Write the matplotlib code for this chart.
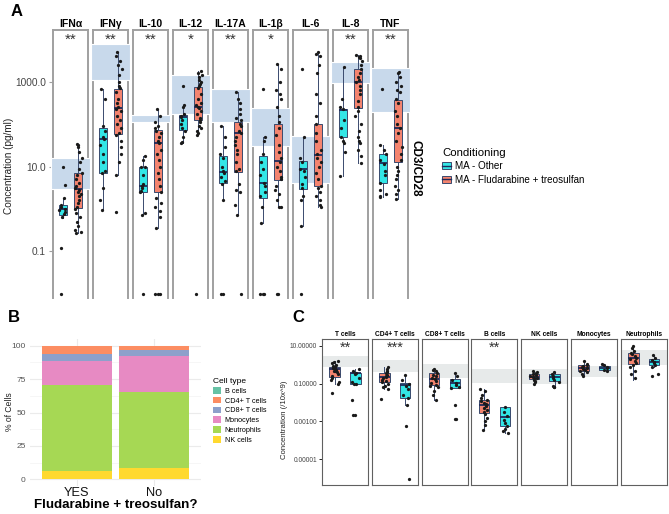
import matplotlib
matplotlib.use('Agg')
import matplotlib.pyplot as plt
import numpy as np
from matplotlib.patches import Rectangle, Patch
from matplotlib.lines import Line2D
from matplotlib.ticker import NullLocator, FixedLocator
from matplotlib.legend_handler import HandlerTuple

plt.rcParams['font.family'] = ['Liberation Sans', 'DejaVu Sans']

W, H = 669, 514
CYAN = '#33E6E6'
SALMON = '#F4846F'
EDGE = '#3A4A6E'
MED = '#1E2A5A'

# ---------------- panel A: cytokines (log10 pg/ml) ----------------
cytokines = ['IFNα', 'IFNγ', 'IL-10', 'IL-12', 'IL-17A', 'IL-1β', 'IL-6', 'IL-8', 'TNF']
sig_a = ['**', '**', '**', '*', '**', '*', '', '**', '**']
band_a_lo = [0.48, 3.04, 2.06, 2.24, 2.06, 1.49, 0.61, 2.96, 2.29]
band_a_hi = [1.20, 3.90, 2.22, 3.16, 2.84, 2.39, 1.71, 3.46, 3.32]

# (whisker low, q1, median, q3, whisker high)
other_a_box = [(-0.22, -0.14, 0.0, 0.10, 0.25), (-0.02, 0.84, 1.64, 1.90, 2.82),
               (-0.14, 0.39, 0.55, 1.00, 1.25), (1.55, 1.86, 2.18, 2.22, 2.45),
               (0.22, 0.62, 0.88, 1.24, 1.96), (-0.32, 0.25, 0.62, 1.25, 1.69),
               (-0.41, 0.47, 0.95, 1.14, 1.69), (0.78, 1.69, 2.33, 2.36, 3.34),
               (0.29, 0.61, 1.09, 1.29, 1.51)]
flu_a_box = [(-0.57, 0.02, 0.47, 0.84, 1.53), (0.80, 1.76, 2.37, 2.84, 3.69),
             (-0.45, 0.41, 1.56, 1.86, 2.35), (1.75, 2.10, 2.40, 2.88, 3.26),
             (-0.14, 0.88, 1.78, 2.06, 2.76), (0.04, 0.69, 1.12, 2.00, 3.41),
             (0.04, 0.53, 1.27, 2.00, 3.69), (1.09, 2.37, 3.00, 3.30, 3.63),
             (0.24, 1.10, 1.90, 2.58, 3.24)]

other_a_pts = [
    [1.0, 0.57, 0.25, 0.1, 0.05, 0.0, -0.02, -0.08, -0.12, -0.2, -0.92, -2.0],
    [2.82, 2.6, 1.95, 1.85, 1.7, 1.64, 1.5, 1.3, 1.1, 0.9, 0.85, 0.49, 0.22, -0.02],
    [1.25, 1.15, 1.0, 0.98, 0.8, 0.6, 0.55, 0.5, 0.42, 0.4, -0.1, -0.14, -2.0],
    [2.9, 2.45, 2.4, 2.25, 2.2, 2.18, 2.1, 2.0, 1.9, 1.85, 1.7, 1.58, 1.55],
    [1.96, 1.7, 1.45, 1.3, 1.2, 1.0, 0.9, 0.85, 0.75, 0.65, 0.6, 0.22, -2.0, -2.0],
    [2.84, 1.69, 1.6, 1.3, 1.1, 0.95, 0.8, 0.62, 0.55, 0.4, 0.3, 0.05, -0.32, -2.0, -2.0, -2.0],
    [3.29, 1.69, 1.2, 1.1, 0.95, 0.9, 0.75, 0.6, 0.5, 0.3, 0.2, -0.41, -2.0],
    [3.34, 2.6, 2.4, 2.35, 2.1, 1.9, 1.7, 1.6, 1.55, 1.35, 0.78],
    [2.82, 1.51, 1.4, 1.3, 1.15, 1.05, 0.9, 0.8, 0.62, 0.45, 0.35, 0.3, 0.29],
]
flu_a_pts = [
    [1.53, 1.5, 1.45, 1.35, 1.2, 1.1, 0.95, 0.85, 0.8, 0.7, 0.62, 0.55, 0.5, 0.45,
     0.4, 0.35, 0.3, 0.22, 0.15, 0.05, 0.0, -0.1, -0.2, -0.3, -0.4, -0.5, -0.55, -0.57],
    [3.69, 3.6, 3.5, 3.4, 3.3, 3.15, 3.0, 2.9, 2.85, 2.75, 2.6, 2.5, 2.4, 2.35, 2.3,
     2.2, 2.1, 2.0, 1.9, 1.8, 1.75, 1.6, 1.45, 1.3, 1.1, 0.8, -0.07],
    [2.35, 2.2, 2.05, 1.95, 1.9, 1.85, 1.8, 1.7, 1.6, 1.55, 1.4, 1.3, 1.15, 1.0, 0.85,
     0.7, 0.55, 0.4, 0.25, 0.15, 0.05, -0.05, -0.2, -0.45, -2.0, -2.0, -2.0],
    [3.26, 3.2, 3.15, 3.1, 3.05, 3.0, 2.95, 2.9, 2.85, 2.7, 2.6, 2.5, 2.45, 2.4, 2.38,
     2.3, 2.25, 2.15, 2.1, 2.05, 1.95, 1.9, 1.85, 1.8, 1.75, -2.0],
    [2.76, 2.6, 2.5, 2.35, 2.25, 2.15, 2.1, 2.0, 1.95, 1.85, 1.78, 1.7, 1.6, 1.5, 1.4,
     1.3, 1.1, 0.95, 0.9, 0.6, 0.45, 0.4, 0.1, -0.14, -2.0],
    [3.41, 3.3, 3.0, 2.8, 2.7, 2.6, 2.4, 2.2, 2.05, 1.9, 1.75, 1.5, 1.35, 1.2, 1.1, 1.0,
     0.9, 0.75, 0.7, 0.55, 0.45, 0.35, 0.2, 0.04, 0.04, -2.0, -2.0],
    [3.69, 3.65, 3.6, 3.4, 3.2, 2.7, 2.5, 2.2, 2.0, 1.8, 1.6, 1.4, 1.3, 1.2, 1.1, 1.0,
     0.85, 0.7, 0.55, 0.5, 0.4, 0.3, 0.2, 0.1, 0.05],
    [3.63, 3.6, 3.58, 3.55, 3.5, 3.4, 3.3, 3.2, 3.1, 3.05, 3.0, 2.9, 2.8, 2.7, 2.55, 2.4,
     2.3, 2.2, 2.0, 1.85, 1.7, 1.6, 1.55, 1.4, 1.25, 1.09],
    [3.24, 3.2, 3.1, 3.0, 2.9, 2.8, 2.75, 2.6, 2.5, 2.3, 2.2, 2.0, 1.9, 1.8, 1.6, 1.45,
     1.3, 1.15, 1.0, 0.9, 0.8, 0.7, 0.55, 0.45, 0.35, 0.24],
]

# ---------------- panel B: cell composition (%) ----------------
cell_types = ['B cells', 'CD4+ T cells', 'CD8+ T cells', 'Monocytes', 'Neutrophils', 'NK cells']
cell_colors = ['#66C2A5', '#FC8D62', '#8DA0CB', '#E78AC3', '#A6D854', '#FFD92F']
flu_groups = ['YES', 'No']
pct_yes = [0.2, 5.8, 5.75, 17.5, 64.25, 6.5]
pct_no = [0.2, 2.8, 4.5, 27.5, 56.25, 8.75]

# ---------------- panel C: cell counts (log10 /10x^9) ----------------
cells_c = ['T cells', 'CD4+ T cells', 'CD8+ T cells', 'B cells', 'NK cells', 'Monocytes', 'Neutrophils']
sig_c = ['**', '***', '', '**', '', '', '']
band_c_lo = [-0.10, -0.36, -0.68, -0.98, -1.03, -0.63, -0.01]
band_c_hi = [0.47, 0.26, 0.03, -0.22, -0.22, -0.04, 0.79]
flu_c_box = [(-1.0, -0.66, -0.24, -0.10, 0.20), (-1.26, -0.90, -0.63, -0.42, -0.10),
             (-1.87, -1.07, -0.77, -0.45, -0.20), (-3.46, -2.54, -2.15, -1.87, -1.26),
             (-1.0, -0.77, -0.63, -0.49, -0.30), (-0.58, -0.31, -0.17, -0.01, 0.20),
             (-0.80, 0.03, 0.34, 0.64, 1.00)]
other_c_box = [(-1.02, -1.02, -0.44, -0.42, -0.20), (-2.13, -1.78, -1.07, -0.98, -0.56),
               (-1.22, -1.22, -0.98, -0.76, -0.45), (-3.63, -3.23, -2.79, -2.25, -2.25),
               (-1.20, -0.86, -0.66, -0.51, -0.40), (-0.35, -0.29, -0.17, -0.06, 0.05),
               (-0.10, -0.01, 0.16, 0.31, 0.50)]
flu_c_pts = [
    [0.2, 0.15, 0.1, 0.0, -0.05, -0.1, -0.15, -0.2, -0.25, -0.3, -0.35, -0.4, -0.5,
     -0.6, -0.7, -0.8, -0.9, -1.0, -1.48],
    [-0.1, -0.2, -0.3, -0.4, -0.45, -0.55, -0.6, -0.65, -0.7, -0.8, -0.85, -0.9, -1.0,
     -1.1, -1.2, -1.26, -1.81],
    [-0.2, -0.25, -0.35, -0.45, -0.55, -0.6, -0.7, -0.75, -0.85, -0.95, -1.05, -1.1,
     -1.2, -1.4, -1.6, -1.87],
    [-1.26, -1.4, -1.6, -1.75, -1.85, -1.9, -2.0, -2.1, -2.2, -2.3, -2.4, -2.5, -2.6,
     -2.8, -3.0, -3.2, -3.46],
    [-0.3, -0.4, -0.45, -0.5, -0.55, -0.6, -0.63, -0.68, -0.72, -0.78, -0.85, -0.9, -1.0],
    [0.2, 0.05, 0.0, -0.05, -0.1, -0.15, -0.2, -0.25, -0.3, -0.4, -0.5, -0.58],
    [1.02, 0.9, 0.75, 0.65, 0.55, 0.45, 0.35, 0.3, 0.2, 0.1, 0.0, -0.1, -0.3, -0.5, -0.7],
]
other_c_pts = [
    [-0.2, -0.35, -0.42, -0.5, -0.7, -0.9, -1.02, -1.02, -1.87, -2.66, -2.66],
    [-0.56, -0.8, -1.0, -1.1, -1.3, -1.6, -1.75, -2.13, -3.23, -6.06],
    [-0.45, -0.6, -0.8, -0.95, -1.05, -1.15, -1.22, -2.13, -2.87, -2.87],
    [-2.25, -2.5, -2.7, -2.9, -3.1, -3.23, -3.4, -3.5, -3.63],
    [-0.4, -0.5, -0.6, -0.7, -0.8, -0.9, -1.1, -1.2, -1.2],
    [0.05, -0.02, -0.1, -0.17, -0.25, -0.33],
    [0.5, 0.35, 0.25, 0.15, 0.1, 0.0, -0.1, -0.5, -0.6],
]

rng = np.random.default_rng(7)  # jitter offsets only


def rect(left, top, w, h):
    return [left / W, 1 - (top + h) / H, w / W, h / H]


def draw_group(ax, pos, box, pts, color):
    lo, q1, med, q3, hi = np.power(10.0, box)
    stats = [dict(whislo=lo, q1=q1, med=med, q3=q3, whishi=hi, fliers=[])]
    ax.bxp(stats, positions=[pos], widths=0.5, patch_artist=True, showfliers=False,
           showcaps=False, manage_ticks=False, zorder=3,
           boxprops=dict(facecolor=color, edgecolor=EDGE, lw=0.7),
           medianprops=dict(color=MED, lw=1.3),
           whiskerprops=dict(color=EDGE, lw=0.7))
    y = np.power(10.0, pts)
    x = pos + rng.uniform(-0.2, 0.2, len(y))
    ax.scatter(x, y, s=5.5, color='#1a1a1a', lw=0, zorder=4)


fig = plt.figure(figsize=(W / 100, H / 100), dpi=100)

# ---- A ----
for i, name in enumerate(cytokines):
    ax = fig.add_axes(rect(53 + 40 * i, 30, 35, 268))
    ax.set_yscale('log')
    ax.set_ylim(10 ** -2.1, 10 ** 4.22)
    ax.set_xlim(0.4, 2.6)
    ax.set_xticks([])
    ax.yaxis.set_minor_locator(NullLocator())
    for s in ['left', 'right', 'top']:
        ax.spines[s].set_color('#a0a0a0')
        ax.spines[s].set_linewidth(1.4)
    ax.spines['bottom'].set_visible(False)
    ax.add_patch(Rectangle((-0.06, 10 ** band_a_lo[i]), 1.12,
                           10 ** band_a_hi[i] - 10 ** band_a_lo[i],
                           transform=ax.get_yaxis_transform(), facecolor='#C8D9EB',
                           edgecolor='white', lw=0.8, clip_on=False, zorder=2.6))
    draw_group(ax, 1, other_a_box[i], other_a_pts[i], CYAN)
    draw_group(ax, 2, flu_a_box[i], flu_a_pts[i], SALMON)
    ax.set_title(name, fontsize=7.5, fontweight='bold', pad=2.5)
    ax.text(0.5, 0.99, sig_a[i], transform=ax.transAxes, ha='center', va='top',
            fontsize=11, color='#333333')
    if i == 0:
        ax.yaxis.set_major_locator(FixedLocator([0.1, 10, 1000]))
        ax.set_yticklabels(['0.1', '10.0', '1000.0'])
        ax.tick_params(axis='y', labelsize=7.3, colors='#a0a0a0', labelcolor='#444444',
                       length=3, width=0.8, pad=2)
    else:
        ax.tick_params(axis='y', left=False, labelleft=False)

fig.text(9 / W, 1 - 166 / H, 'Concentration (pg/ml)', rotation=90, ha='center',
         va='center', fontsize=7.2, color='#222222')
fig.text(416 / W, 1 - 168 / H, 'CD3/CD28', rotation=270, ha='center', va='center',
         fontsize=8.5, fontweight='bold')

h_other = (Patch(facecolor=CYAN, edgecolor=EDGE, lw=0.7), Line2D([], [], color=MED, lw=1))
h_flu = (Patch(facecolor=SALMON, edgecolor=EDGE, lw=0.7), Line2D([], [], color=MED, lw=1))
leg = fig.legend([h_other, h_flu], ['MA - Other', 'MA - Fludarabine + treosulfan'],
                 handler_map={tuple: HandlerTuple(ndivide=1)},
                 title='Conditioning', loc='upper left',
                 bbox_to_anchor=(438 / W, 1 - 144 / H), frameon=False, fontsize=7.1,
                 title_fontsize=8.2, handlelength=0.9, handleheight=0.7,
                 handletextpad=0.4, labelspacing=0.35, borderaxespad=0)
leg._legend_box.align = 'left'

# ---- B ----
axb = fig.add_axes(rect(30, 339, 171, 147))
xb = np.arange(len(flu_groups))
bottom = np.zeros(len(flu_groups))
for k in range(len(cell_types) - 1, -1, -1):
    vals = np.array([pct_yes[k], pct_no[k]])
    axb.bar(xb, vals, width=0.9, bottom=bottom, color=cell_colors[k], zorder=2)
    bottom += vals
axb.set_xlim(-0.6, 1.6)
axb.set_ylim(-5, 105)
axb.set_yticks([0, 25, 50, 75, 100])
axb.set_yticks([12.5, 37.5, 62.5, 87.5], minor=True)
axb.set_xticks(xb)
axb.set_xticklabels(flu_groups)
axb.grid(True, which='major', color='#ebebeb', lw=0.8, zorder=0)
axb.grid(True, which='minor', axis='y', color='#f3f3f3', lw=0.5, zorder=0)
for s in axb.spines.values():
    s.set_visible(False)
axb.tick_params(axis='both', which='both', length=0)
axb.tick_params(axis='y', labelsize=6, labelcolor='#555555', pad=3)
axb.tick_params(axis='x', labelsize=9.2, labelcolor='#111111', pad=1)
axb.set_xlabel('Fludarabine + treosulfan?', fontsize=9.6, fontweight='bold', labelpad=0)
fig.text(10 / W, 1 - 412 / H, '% of Cells', rotation=90, ha='center', va='center',
         fontsize=6.2, color='#222222')
handles_b = [Patch(facecolor=c) for c in cell_colors]
axb.legend(handles_b, cell_types, title='Cell type', loc='upper left',
           bbox_to_anchor=(210 / W, 1 - 375 / H), bbox_transform=fig.transFigure,
           frameon=False, fontsize=5.2, title_fontsize=6, handlelength=1.15,
           handleheight=1.05, handletextpad=0.5, labelspacing=0.28, borderaxespad=0,
           alignment='left')

# ---- C ----
for i, name in enumerate(cells_c):
    ax = fig.add_axes(rect(322 + 49.8 * i, 339, 46, 146))
    ax.set_yscale('log')
    ax.set_ylim(10 ** -6.37, 10 ** 1.37)
    ax.set_xlim(0.4, 2.6)
    ax.set_xticks([])
    ax.yaxis.set_minor_locator(NullLocator())
    for s in ax.spines.values():
        s.set_color('#606060')
        s.set_linewidth(0.8)
    ax.add_patch(Rectangle((0, 10 ** band_c_lo[i]), 1,
                           10 ** band_c_hi[i] - 10 ** band_c_lo[i],
                           transform=ax.get_yaxis_transform(), facecolor='#E7EAEA',
                           edgecolor='none', zorder=0.5))
    draw_group(ax, 1, flu_c_box[i], flu_c_pts[i], SALMON)
    draw_group(ax, 2, other_c_box[i], other_c_pts[i], CYAN)
    ax.set_title(name, fontsize=4.8, fontweight='bold', pad=2)
    ax.text(0.5, 0.99, sig_c[i], transform=ax.transAxes, ha='center', va='top',
            fontsize=10.5, color='#333333')
    if i == 0:
        ax.yaxis.set_major_locator(FixedLocator([1e-5, 1e-3, 0.1, 10]))
        ax.set_yticklabels(['0.00001', '0.00100', '0.10000', '10.00000'])
        ax.tick_params(axis='y', labelsize=4.8, labelcolor='#444444', length=2,
                       width=0.6, pad=1.5)
    else:
        ax.tick_params(axis='y', left=False, labelleft=False)

fig.text(284 / W, 1 - 420 / H, 'Concentration (/10x^9)', rotation=90, ha='center',
         va='center', fontsize=5.6, color='#222222')

# panel letters
fig.text(11 / W, 1 - 12 / H, 'A', fontsize=12, fontweight='bold', va='center')
fig.text(8 / W, 1 - 318 / H, 'B', fontsize=12, fontweight='bold', va='center')
fig.text(292 / W, 1 - 318 / H, 'C', fontsize=12, fontweight='bold', va='center')

fig.savefig('out.png', dpi=100)
plt.close(fig)
